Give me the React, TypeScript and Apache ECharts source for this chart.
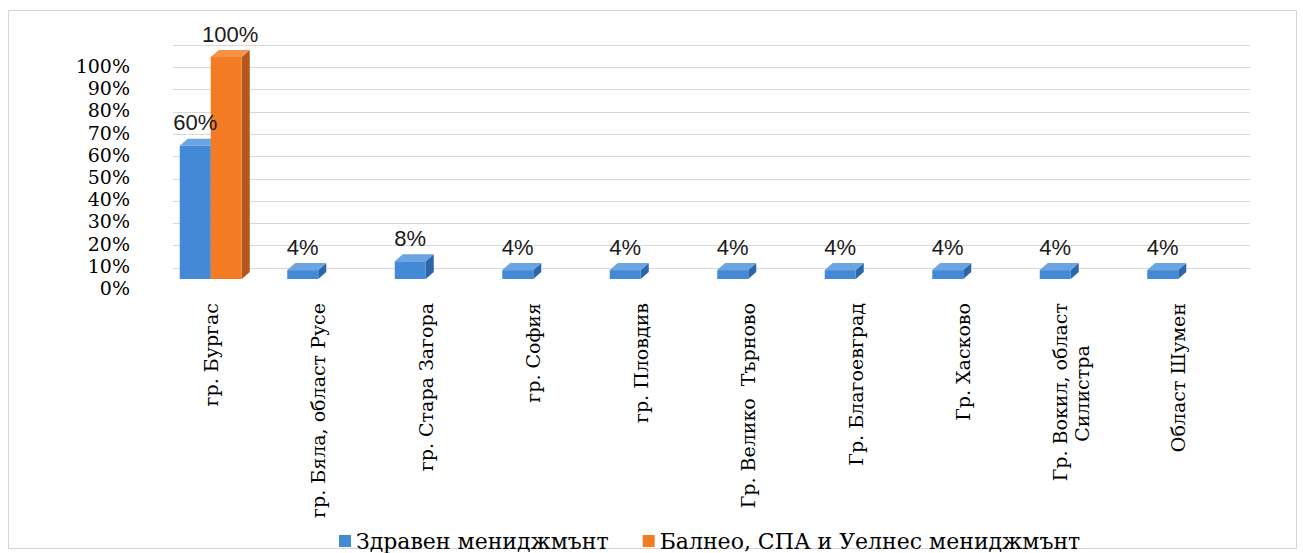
import React, { useEffect, useRef } from "react";
import * as echarts from "echarts";

const categories: string[] = [
  "гр. Бургас",
  "гр. Бяла, област Русе",
  "гр. Стара Загора",
  "гр. София",
  "гр. Пловдив",
  "Гр. Велико  Търново",
  "Гр. Благоевград",
  "Гр. Хасково",
  "Гр. Вокил, област\nСилистра\u00A0\u00A0\u00A0\u00A0\u00A0\u00A0\u00A0",
  "Област Шумен",
];

const seriesNames: string[] = ["Здравен мениджмънт", "Балнео, СПА и Уелнес мениджмънт"];

const healthValues: (number | null)[] = [0.6, 0.04, 0.08, 0.04, 0.04, 0.04, 0.04, 0.04, 0.04, 0.04];
const spaValues: (number | null)[] = [1.0, null, null, null, null, null, null, null, null, null];

const yTicks: number[] = [0, 0.1, 0.2, 0.3, 0.4, 0.5, 0.6, 0.7, 0.8, 0.9, 1.0];

const DX = 8;
const DY = -7;
const BAR_W = 31;
const OFFSETS = [-31, 0];
const COLORS = [
  { front: "#4389d6", top: "#6aa4e2", side: "#2d66a8" },
  { front: "#f27b24", top: "#f69445", side: "#b5561a" },
];

function toData(values: (number | null)[]) {
  return values
    .map((v, i) => [i, v] as [number, number | null])
    .filter((d) => d[1] !== null && d[1] !== undefined);
}

function boxRenderer(s: number) {
  const c = COLORS[s];
  return (_params: any, api: any) => {
    const idx = api.value(0);
    const val = api.value(1);
    const b = api.coord([idx, 0]);
    const t = api.coord([idx, val]);
    const x0 = b[0] + OFFSETS[s];
    const x1 = x0 + BAR_W;
    const yb = b[1];
    const yt = t[1];
    return {
      type: "group",
      children: [
        {
          type: "polygon",
          shape: { points: [[x1, yb], [x1 + DX, yb + DY], [x1 + DX, yt + DY], [x1, yt]] },
          style: { fill: c.side },
        },
        {
          type: "rect",
          shape: { x: x0, y: yt, width: BAR_W, height: yb - yt },
          style: { fill: c.front },
        },
        {
          type: "polygon",
          shape: { points: [[x0, yt], [x1, yt], [x1 + DX, yt + DY], [x0 + DX, yt + DY]] },
          style: { fill: c.top },
        },
      ],
    };
  };
}

export default function App() {
  const ref = useRef<HTMLDivElement>(null);
  useEffect(() => {
    if (!ref.current) return;
    const chart = echarts.init(ref.current, null, { renderer: "svg" });
    const labelData = [
      ...toData(healthValues).map((d) => [d[0], d[1], 0]),
      ...toData(spaValues).map((d) => [d[0], d[1], 1]),
    ];
    const option: any = {
      animation: false,
      backgroundColor: "#ffffff",
      graphic: [
        {
          type: "rect",
          shape: { x: 8.5, y: 10.5, width: 1288, height: 538 },
          style: { fill: "none", stroke: "#d4d4d4", lineWidth: 1 },
          silent: true,
        },
      ],
      legend: {
        left: 339,
        top: 530,
        padding: 0,
        itemWidth: 12,
        itemHeight: 12,
        itemGap: 34,
        data: seriesNames.map((n) => ({ name: n, icon: "rect" })),
        textStyle: { fontFamily: "DejaVu Serif", fontSize: 22, lineHeight: 22, color: "#000" },
      },
      grid: [
        { left: 157, top: 57, width: 1075, height: 222 },
        { left: 173, top: 45, width: 1077, height: 223 },
      ],
      xAxis: [
        {
          type: "category",
          gridIndex: 0,
          data: categories,
          axisLine: { show: false },
          axisTick: { show: false },
          axisLabel: {
            rotate: 90,
            interval: 0,
            margin: 24,
            fontFamily: "DejaVu Serif",
            fontSize: 19,
            color: "#000",
            lineHeight: 22,
          },
        },
        { type: "category", gridIndex: 1, data: categories, show: false },
      ],
      yAxis: [
        {
          type: "value",
          gridIndex: 0,
          min: 0,
          max: 1,
          interval: 0.1,
          splitLine: { show: false },
          axisLine: { show: false },
          axisTick: { show: false },
          axisLabel: {
            margin: 27,
            verticalAlign: "top",
            lineHeight: 18,
            fontFamily: "DejaVu Serif",
            fontSize: 19,
            color: "#000",
            formatter: (v: number) => {
              const t = yTicks.find((x) => Math.abs(x - v) < 1e-9);
              return t === undefined ? "" : Math.round(t * 100) + "%";
            },
          },
        },
        {
          type: "value",
          gridIndex: 1,
          min: 0,
          max: 1,
          interval: 0.1,
          axisLabel: { show: false },
          axisLine: { show: false },
          axisTick: { show: false },
          splitLine: { show: true, lineStyle: { color: "#d9d9d9", width: 1 } },
        },
      ],
      series: [
        {
          type: "custom",
          name: seriesNames[0],
          xAxisIndex: 0,
          yAxisIndex: 0,
          itemStyle: { color: COLORS[0].front },
          encode: { x: 0, y: 1 },
          data: toData(healthValues),
          renderItem: boxRenderer(0),
          z: 2,
        },
        {
          type: "custom",
          name: seriesNames[1],
          xAxisIndex: 0,
          yAxisIndex: 0,
          itemStyle: { color: COLORS[1].front },
          encode: { x: 0, y: 1 },
          data: toData(spaValues),
          renderItem: boxRenderer(1),
          z: 3,
        },
        {
          type: "custom",
          name: "labels",
          xAxisIndex: 0,
          yAxisIndex: 0,
          encode: { x: 0, y: 1 },
          data: labelData,
          z: 10,
          silent: true,
          renderItem: (_params: any, api: any) => {
            const idx = api.value(0);
            const val = api.value(1);
            const s = api.value(2);
            const t = api.coord([idx, val]);
            const cx = t[0] + OFFSETS[s] + BAR_W / 2 + (s === 1 ? 4 : 0);
            return {
              type: "text",
              style: {
                text: Math.round(val * 100) + "%",
                x: cx,
                y: t[1] + DY - 5,
                align: "center",
                verticalAlign: "bottom",
                fill: "#1a1a1a",
                fontFamily: "Liberation Sans",
                fontSize: 22,
              },
            };
          },
        },
      ],
    };
    chart.setOption(option);
    return () => chart.dispose();
  }, []);
  return (
    <div
      ref={ref}
      style={{ position: "absolute", left: 0, top: 0, width: 1303, height: 553, background: "#fff" }}
    />
  );
}
